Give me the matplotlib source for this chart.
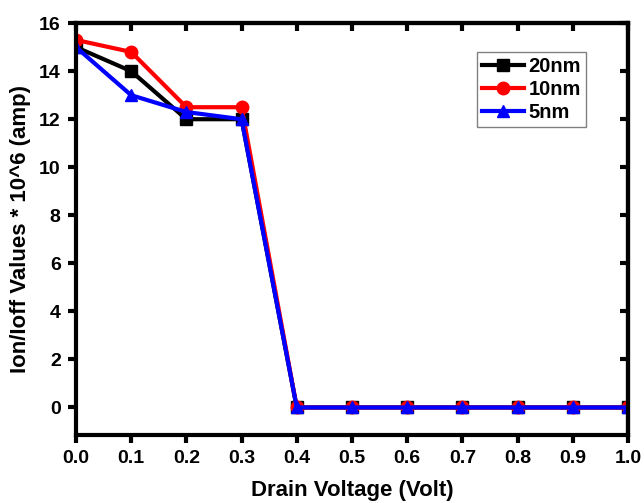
import matplotlib.pyplot as plt
from matplotlib.ticker import MultipleLocator

plt.rcParams['font.family'] = ['Liberation Sans', 'DejaVu Sans']
plt.rcParams['font.weight'] = 'bold'

voltage = [0.0, 0.1, 0.2, 0.3, 0.4, 0.5, 0.6, 0.7, 0.8, 0.9, 1.0]
ratio_20nm = [15.0, 14.0, 12.0, 12.0, 0, 0, 0, 0, 0, 0, 0]
ratio_10nm = [15.3, 14.8, 12.5, 12.5, 0, 0, 0, 0, 0, 0, 0]
ratio_5nm = [15.0, 13.0, 12.3, 12.0, 0, 0, 0, 0, 0, 0, 0]

fig = plt.figure(figsize=(6.44, 5.03), dpi=100)
ax = fig.add_axes([0.118, 0.135, 0.857, 0.819])

ax.plot(voltage, ratio_20nm, color='black', marker='s', markersize=8, linewidth=3, label='20nm')
ax.plot(voltage, ratio_10nm, color='red', marker='o', markersize=9, linewidth=3, label='10nm')
ax.plot(voltage, ratio_5nm, color='blue', marker='^', markersize=9, linewidth=3, label='5nm')

ax.set_xlim(0, 1.0)
ax.set_ylim(-1.15, 16)
ax.xaxis.set_major_locator(MultipleLocator(0.1))
ax.yaxis.set_major_locator(MultipleLocator(2))
# Origin style: outward on bottom/left, inward on top/right
ax.tick_params(direction='out', width=3, length=6, labelsize=14, pad=5)
for s in ax.spines.values():
    s.set_linewidth(3)
for lbl in ax.get_xticklabels() + ax.get_yticklabels():
    lbl.set_fontweight('bold')

top = ax.secondary_xaxis('top')
top.xaxis.set_major_locator(MultipleLocator(0.1))
top.tick_params(direction='in', width=3, length=6, labeltop=False)
top.spines['top'].set_linewidth(3)
right = ax.secondary_yaxis('right')
right.yaxis.set_major_locator(MultipleLocator(2))
right.tick_params(direction='in', width=3, length=6, labelright=False)
right.spines['right'].set_linewidth(3)

ax.set_xlabel('Drain Voltage (Volt)', fontsize=16, fontweight='bold', labelpad=9)
ax.set_ylabel('Ion/Ioff Values * 10^6 (amp)', fontsize=16, fontweight='bold', labelpad=6)

leg = ax.legend(loc='upper right', bbox_to_anchor=(0.924, 0.93), borderaxespad=0, fontsize=14.5,
                fancybox=False, edgecolor='gray', framealpha=1, handlelength=2.1, borderpad=0.25,
                labelspacing=0.2, handletextpad=0.2)
leg.get_frame().set_linewidth(1)

plt.savefig('out.png', dpi=100)
